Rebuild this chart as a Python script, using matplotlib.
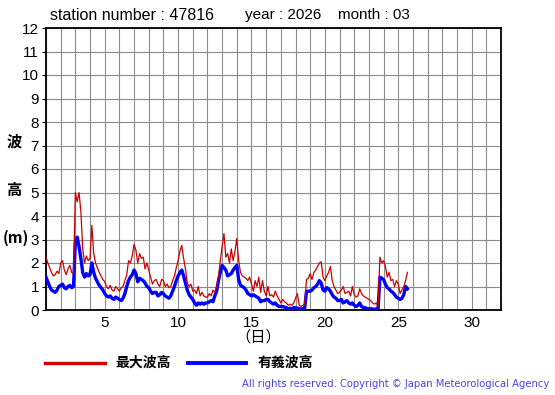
import numpy as np
import matplotlib
matplotlib.use("Agg")
from matplotlib import pyplot as plt

# 3-hourly values starting 1st 00:00 (one row of 8 per day)
max_wave = [
    2.25, 2.0, 1.8, 1.6, 1.45, 1.5, 1.65, 1.55,   # 1
    2.0, 2.1, 1.7, 1.5, 1.75, 1.9, 1.6, 1.55,     # 2
    5.0, 4.6, 5.0, 4.2, 2.6, 2.0, 2.3, 2.1,       # 3
    2.2, 3.6, 2.4, 2.0, 1.8, 1.6, 1.45, 1.3,      # 4
    1.2, 1.0, 0.9, 1.05, 0.85, 0.8, 1.0, 0.9,     # 5
    0.8, 0.95, 1.0, 1.25, 1.5, 2.1, 2.0, 2.3,     # 6
    2.8, 2.55, 2.0, 2.4, 2.2, 2.25, 1.75, 2.0,    # 7
    1.7, 1.4, 1.1, 1.25, 1.3, 1.1, 1.0, 1.3,      # 8
    1.25, 1.0, 1.1, 0.95, 1.0, 1.25, 1.45, 1.8,   # 9
    2.1, 2.5, 2.75, 2.2, 1.75, 1.15, 1.0, 1.1,    # 10
    0.8, 0.85, 0.7, 1.0, 0.6, 0.75, 0.6, 0.55,    # 11
    0.55, 0.7, 0.6, 0.85, 0.75, 1.0, 1.4, 2.1,    # 12
    2.7, 3.25, 2.25, 2.4, 2.0, 2.6, 2.1, 2.5,     # 13
    3.05, 2.1, 1.6, 1.45, 1.4, 1.35, 1.25, 1.4,   # 14
    1.1, 0.8, 1.25, 1.0, 1.4, 0.75, 1.25, 0.8,    # 15
    0.6, 1.0, 0.6, 0.65, 0.55, 0.8, 0.6, 0.45,    # 16
    0.3, 0.45, 0.35, 0.3, 0.2, 0.25, 0.2, 0.3,    # 17
    0.5, 0.7, 0.2, 0.15, 0.2, 0.25, 1.3, 1.35,    # 18
    1.55, 1.3, 1.6, 1.7, 1.85, 2.0, 2.05, 1.4,    # 19
    1.25, 1.45, 1.6, 1.85, 1.25, 1.0, 0.85, 0.7,  # 20
    0.75, 0.85, 1.0, 0.7, 0.75, 0.8, 0.6, 1.0,    # 21
    0.65, 0.55, 0.6, 0.9, 0.7, 0.6, 0.55, 0.5,    # 22
    0.45, 0.4, 0.3, 0.25, 0.3, 0.15, 2.25, 2.0,   # 23
    2.1, 1.85, 1.4, 1.6, 1.25, 1.3, 1.0, 1.25,    # 24
    1.1, 0.7, 0.85, 1.0, 1.25, 1.6,               # 25
]
sig_wave = [
    1.4, 1.2, 1.0, 0.85, 0.8, 0.75, 0.85, 1.0,
    1.05, 1.1, 0.95, 0.9, 1.0, 1.05, 0.95, 1.0,
    2.9, 3.1, 2.7, 2.2, 1.6, 1.4, 1.55, 1.45,
    1.5, 2.0, 1.6, 1.35, 1.2, 1.05, 0.95, 0.85,
    0.7, 0.6, 0.55, 0.6, 0.5, 0.45, 0.55, 0.5,
    0.45, 0.4, 0.5, 0.7, 1.0, 1.25, 1.4, 1.5,
    1.7, 1.55, 1.2, 1.35, 1.3, 1.25, 1.15, 1.0,
    0.95, 0.8, 0.7, 0.75, 0.75, 0.6, 0.65, 0.75,
    0.7, 0.6, 0.55, 0.5, 0.6, 0.8, 1.0, 1.25,
    1.45, 1.6, 1.7, 1.45, 1.15, 0.85, 0.65, 0.55,
    0.45, 0.3, 0.2, 0.3, 0.25, 0.3, 0.25, 0.3,
    0.3, 0.35, 0.4, 0.35, 0.6, 0.8, 1.25, 1.6,
    1.9, 1.8, 1.7, 1.45, 1.5, 1.55, 1.7, 1.8,
    1.9, 1.3, 1.05, 1.0, 0.95, 0.85, 0.7, 0.65,
    0.6, 0.65, 0.6, 0.55, 0.5, 0.35, 0.4, 0.4,
    0.45, 0.45, 0.35, 0.3, 0.25, 0.3, 0.2, 0.15,
    0.15, 0.15, 0.12, 0.1, 0.05, 0.08, 0.05, 0.1,
    0.1, 0.08, 0.05, 0.05, 0.05, 0.08, 0.8, 0.8,
    0.8, 0.85, 0.95, 1.0, 1.1, 1.25, 1.15, 0.85,
    0.8, 0.95, 0.9, 0.8, 0.65, 0.55, 0.5, 0.4,
    0.4, 0.45, 0.3, 0.35, 0.4, 0.3, 0.25, 0.3,
    0.2, 0.15, 0.2, 0.3, 0.15, 0.1, 0.1, 0.05,
    0.05, 0.05, 0.05, 0.02, 0.05, 0.05, 1.4, 1.35,
    1.3, 1.1, 0.95, 0.9, 0.8, 0.75, 0.65, 0.55,
    0.5, 0.45, 0.5, 0.65, 1.0, 0.9,
]
x_ticks = [5, 10, 15, 20, 25, 30]
y_ticks = list(range(0, 13))

RED = "#cc0000"
BLUE = "#0000ff"
CJK = ["Noto Sans CJK JP", "DejaVu Sans"]


def px(x, y):
    # figure pixel coords (from top-left) -> figure fraction
    return x / 555, 1 - y / 395


def main():
    plt.rcParams["font.family"] = ["Liberation Sans", "DejaVu Sans"]
    fig = plt.figure(figsize=(5.55, 3.95), dpi=100)
    ax = fig.add_axes([46 / 555, 1 - 310 / 395, 455 / 555, 282 / 395])

    t = 1 + np.arange(len(max_wave)) / 8
    ax.plot(t, sig_wave, color=BLUE, lw=2.4, zorder=3)
    ax.plot(t, max_wave, color=RED, lw=0.9, zorder=4)

    ax.set_xlim(1, 32)
    ax.set_ylim(0, 12)
    ax.set_xticks(x_ticks)
    ax.set_xticks(np.arange(1, 33), minor=True)
    ax.set_yticks(y_ticks)
    ax.grid(True, which="both", color="#8c8c8c", lw=0.8)
    ax.tick_params(axis="x", which="both", length=0, labelsize=11, pad=4)
    ax.tick_params(axis="y", length=3, labelsize=11, pad=2)
    for s in ax.spines.values():
        s.set_linewidth(1.3)

    fig.text(*px(50, 15), "station number : 47816", fontsize=11.5, va="center")
    fig.text(*px(245, 15), "year : 2026", fontsize=11, va="center")
    fig.text(*px(338, 15), "month : 03", fontsize=11, va="center")

    fig.text(*px(14, 141), "波", family=CJK, fontsize=11, weight="bold", ha="center", va="center")
    fig.text(*px(14, 190), "高", family=CJK, fontsize=11, weight="bold", ha="center", va="center")
    fig.text(*px(16, 238), "(m)", family=CJK, fontsize=11, weight="bold", ha="center", va="center")
    fig.text(*px(258, 337), "（日）", family=CJK, fontsize=11, ha="center", va="center")

    # legend drawn by hand
    fig.add_artist(plt.Line2D([45 / 555, 105 / 555], [1 - 363 / 395] * 2, color=RED, lw=2.4))
    fig.text(*px(115, 363), "最大波高", family=CJK, fontsize=10, weight="bold", va="center")
    fig.add_artist(plt.Line2D([188 / 555, 246 / 555], [1 - 363 / 395] * 2, color=BLUE, lw=2.8))
    fig.text(*px(258, 363), "有義波高", family=CJK, fontsize=10, weight="bold", va="center")

    fig.text(*px(549, 384), "All rights reserved. Copyright © Japan Meteorological Agency",
             family="DejaVu Sans", fontsize=7.2, color="#4646e6", ha="right", va="center")

    fig.savefig("out.png", dpi=100)


if __name__ == "__main__":
    main()
